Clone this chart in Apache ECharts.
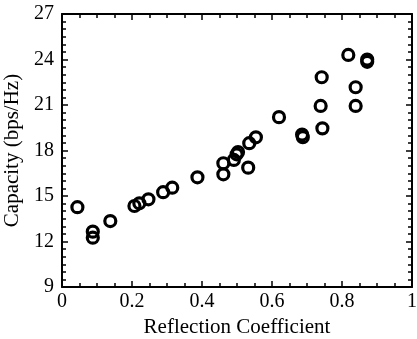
<!DOCTYPE html>
<html>
<head>
<meta charset="utf-8">
<script src="https://cdn.jsdelivr.net/npm/echarts@6/dist/echarts.min.js"></script>
<style>
html, body { margin: 0; padding: 0; background: #fff; }
#chart { width: 417px; height: 339px; }
</style>
</head>
<body>
<div id="chart"></div>
<script>
// reflection coefficient (x) and capacity in bps/Hz (y)
var reflCoef = [0.044, 0.088, 0.088, 0.138, 0.207, 0.221, 0.247, 0.289, 0.315, 0.387,
                0.461, 0.461, 0.491, 0.499, 0.503, 0.532, 0.535, 0.554, 0.620, 0.686,
                0.688, 0.742, 0.739, 0.744, 0.818, 0.839, 0.839, 0.872, 0.872];
var capacity = [14.26, 12.65, 12.25, 13.35, 14.34, 14.52, 14.78, 15.25, 15.55, 16.23,
                17.16, 16.43, 17.38, 17.75, 17.90, 16.87, 18.48, 18.87, 20.20, 19.05,
                18.88, 22.83, 20.94, 19.46, 24.30, 22.17, 20.94, 24.00, 23.85];
var xTicks = [0, 0.2, 0.4, 0.6, 0.8, 1];
var yTicks = [9, 12, 15, 18, 21, 24, 27];

var FontFam = '"Liberation Serif", "Times New Roman", serif';
var pts = [];
for (var i = 0; i < reflCoef.length; i++) {
    pts.push([reflCoef[i], capacity[i]]);
}

function frameAxis(pos, isX, show) {
    var ax = {
        type: 'value',
        position: pos,
        min: isX ? xTicks[0] : yTicks[0],
        max: isX ? xTicks[xTicks.length - 1] : yTicks[yTicks.length - 1],
        interval: isX ? 0.2 : 3,
        axisLine: { show: true, onZero: false, lineStyle: { color: '#000', width: 2 } },
        axisTick: { show: true, inside: true, length: 6, lineStyle: { color: '#000', width: 1.5 } },
        minorTick: { show: true, splitNumber: isX ? 4 : 6, length: 4, lineStyle: { color: '#000', width: 1.5 } },
        splitLine: { show: false },
        axisLabel: {
            show: show,
            color: '#000',
            fontFamily: FontFam,
            fontSize: 20,
            margin: isX ? 5 : 8,
            showMinLabel: true,
            showMaxLabel: true
        }
    };
    return ax;
}

var xBottom = frameAxis('bottom', true, true);
xBottom.name = 'Reflection Coefficient';
xBottom.nameLocation = 'middle';
xBottom.nameGap = 27;
xBottom.nameTextStyle = { color: '#000', fontFamily: FontFam, fontSize: 21 };
var xTop = frameAxis('top', true, false);

var yLeft = frameAxis('left', false, true);
yLeft.name = 'Capacity (bps/Hz)';
yLeft.nameLocation = 'middle';
yLeft.nameGap = 34;
yLeft.nameTextStyle = { color: '#000', fontFamily: FontFam, fontSize: 21 };
var yRight = frameAxis('right', false, false);

var option = {
    animation: false,
    backgroundColor: '#fff',
    textStyle: { fontFamily: FontFam },
    grid: { left: 62, top: 14, right: 5, bottom: 52, containLabel: false, outerBoundsMode: 'none' },
    xAxis: [xBottom, xTop],
    yAxis: [yLeft, yRight],
    series: [{
        type: 'scatter',
        xAxisIndex: 0,
        yAxisIndex: 0,
        data: pts,
        symbol: 'circle',
        symbolSize: 11,
        itemStyle: { color: 'rgba(0,0,0,0)', borderColor: '#000', borderWidth: 3.2, opacity: 1 }
    }]
};
var chart = echarts.init(document.getElementById('chart'));
chart.setOption(option);
</script>
</body>
</html>
